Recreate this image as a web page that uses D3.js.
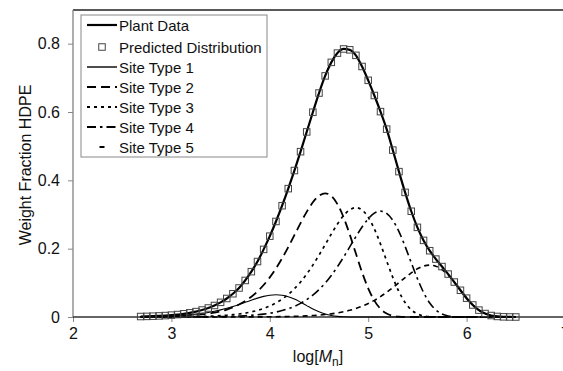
<!DOCTYPE html>
<html>
<head>
<meta charset="utf-8">
<script src="https://cdn.jsdelivr.net/npm/d3@7"></script>
<style>
  body { margin: 0; background: #fff; }
  svg { display: block; font-family: "Liberation Sans", Arial, sans-serif; }
</style>
</head>
<body>
<svg id="chart" width="563" height="371"></svg>
<script>
// log(Mn) grid shared by all curves
const logM = [2.6875, 2.75, 2.8125, 2.875, 2.9375, 3, 3.0625, 3.125, 3.1875, 3.25,
  3.3125, 3.375, 3.4375, 3.5, 3.5625, 3.625, 3.6875, 3.75, 3.8125, 3.875,
  3.9375, 4, 4.0625, 4.125, 4.1875, 4.25, 4.3125, 4.375, 4.4375, 4.5,
  4.5625, 4.625, 4.6875, 4.75, 4.8125, 4.875, 4.9375, 5, 5.0625, 5.125,
  5.1875, 5.25, 5.3125, 5.375, 5.4375, 5.5, 5.5625, 5.625, 5.6875, 5.75,
  5.8125, 5.875, 5.9375, 6, 6.0625, 6.125, 6.1875, 6.25, 6.3125, 6.375,
  6.4375, 6.5];

// Measured weight fraction (plant GPC)
const plantData = [0.0014, 0.0018, 0.0024, 0.0032, 0.0042, 0.0055, 0.0072, 0.0094, 0.0122, 0.0158,
  0.0204, 0.0263, 0.0337, 0.0429, 0.0542, 0.0681, 0.0849, 0.107, 0.1327, 0.1623,
  0.1979, 0.2366, 0.2796, 0.3257, 0.3757, 0.4287, 0.4839, 0.5417, 0.5994, 0.6555,
  0.7057, 0.7453, 0.7724, 0.7845, 0.782, 0.7658, 0.7332, 0.6927, 0.6483, 0.6011,
  0.5499, 0.4885, 0.4255, 0.3647, 0.3095, 0.2624, 0.2242, 0.194, 0.1695, 0.1476,
  0.1256, 0.1023, 0.0782, 0.0551, 0.0352, 0.0201, 0.0101, 0.0043, 0.0016, 0.0005,
  0.0001, 0];

// Model prediction (five site types combined)
const predicted = [0.0014, 0.0018, 0.0024, 0.0032, 0.0042, 0.0055, 0.0072, 0.0094, 0.0122, 0.0158,
  0.0204, 0.0263, 0.0337, 0.0429, 0.0542, 0.0681, 0.0849, 0.107, 0.1327, 0.1623,
  0.1979, 0.2366, 0.2796, 0.3257, 0.3757, 0.4287, 0.4839, 0.5417, 0.5994, 0.6555,
  0.7057, 0.7453, 0.7724, 0.7845, 0.782, 0.7658, 0.7332, 0.6927, 0.6483, 0.6011,
  0.5499, 0.4885, 0.4255, 0.3647, 0.3095, 0.2624, 0.2242, 0.194, 0.1695, 0.1476,
  0.1256, 0.1023, 0.0782, 0.0551, 0.0352, 0.0201, 0.0101, 0.0043, 0.0016, 0.0005,
  0.0001, 0];

const site1 = [0.0008, 0.001, 0.0014, 0.0018, 0.0023, 0.003, 0.0039, 0.0051, 0.0065, 0.0084,
  0.0106, 0.0134, 0.0168, 0.0208, 0.0255, 0.0309, 0.0368, 0.043, 0.0493, 0.0553,
  0.0603, 0.0637, 0.065, 0.0636, 0.0593, 0.0524, 0.0433, 0.0333, 0.0235, 0.0151,
  0.0086, 0.0043, 0.0019, 0.0007, 0.0002, 0.0001, 0, 0, 0, 0,
  0, 0, 0, 0, 0, 0, 0, 0, 0, 0,
  0, 0, 0, 0, 0, 0, 0, 0, 0, 0,
  0, 0];

const site2 = [0.0005, 0.0006, 0.0008, 0.0011, 0.0014, 0.0019, 0.0025, 0.0033, 0.0044, 0.0058,
  0.0076, 0.0099, 0.013, 0.0169, 0.0219, 0.0283, 0.0364, 0.0466, 0.0593, 0.0748,
  0.0936, 0.116, 0.1421, 0.1718, 0.2047, 0.2395, 0.2747, 0.3078, 0.3357, 0.3549,
  0.362, 0.3542, 0.3304, 0.2916, 0.2414, 0.1856, 0.1311, 0.0839, 0.0479, 0.024,
  0.0103, 0.0037, 0.0011, 0.0003, 0.0001, 0, 0, 0, 0, 0,
  0, 0, 0, 0, 0, 0, 0, 0, 0, 0,
  0, 0];

const site3 = [0.0001, 0.0001, 0.0002, 0.0002, 0.0003, 0.0004, 0.0005, 0.0007, 0.001, 0.0013,
  0.0017, 0.0022, 0.0029, 0.0039, 0.0051, 0.0067, 0.0088, 0.0114, 0.0149, 0.0194,
  0.025, 0.0322, 0.0412, 0.0524, 0.0661, 0.0828, 0.1025, 0.1256, 0.1519, 0.1809,
  0.2117, 0.2428, 0.2721, 0.2968, 0.3137, 0.32, 0.3131, 0.2921, 0.2577, 0.2134,
  0.1641, 0.1159, 0.0742, 0.0424, 0.0212, 0.0091, 0.0033, 0.001, 0.0002, 0,
  0, 0, 0, 0, 0, 0, 0, 0, 0, 0,
  0, 0];

const site4 = [0, 0, 0.0001, 0.0001, 0.0001, 0.0001, 0.0002, 0.0002, 0.0003, 0.0004,
  0.0005, 0.0007, 0.0009, 0.0012, 0.0016, 0.0022, 0.0028, 0.0037, 0.0049, 0.0065,
  0.0085, 0.0111, 0.0144, 0.0188, 0.0243, 0.0312, 0.0399, 0.0508, 0.0641, 0.0802,
  0.0993, 0.1217, 0.1472, 0.1753, 0.2051, 0.2352, 0.2636, 0.2875, 0.3039, 0.31,
  0.3033, 0.2829, 0.2497, 0.2067, 0.159, 0.1123, 0.0719, 0.041, 0.0206, 0.0089,
  0.0032, 0.001, 0.0002, 0, 0, 0, 0, 0, 0, 0,
  0, 0];

const site5 = [0, 0, 0, 0, 0, 0, 0, 0, 0, 0,
  0, 0, 0.0001, 0.0001, 0.0001, 0.0001, 0.0002, 0.0002, 0.0003, 0.0003,
  0.0005, 0.0006, 0.0008, 0.0011, 0.0014, 0.0018, 0.0024, 0.0032, 0.0042, 0.0054,
  0.0071, 0.0092, 0.0119, 0.0153, 0.0196, 0.0249, 0.0314, 0.0393, 0.0487, 0.0597,
  0.0722, 0.0859, 0.1006, 0.1153, 0.1292, 0.141, 0.149, 0.152, 0.1487, 0.1387,
  0.1224, 0.1014, 0.0779, 0.055, 0.0352, 0.0201, 0.0101, 0.0043, 0.0016, 0.0005,
  0.0001, 0];

const xTicks = [2, 3, 4, 5, 6, 7];
const yTicks = [0, 0.2, 0.4, 0.6, 0.8];
const yTickLabels = ["0", "0.2", "0.4", "0.6", "0.8"];
const legendLabels = ["Plant Data", "Predicted Distribution", "Site Type 1",
  "Site Type 2", "Site Type 3", "Site Type 4", "Site Type 5"];

const svg = d3.select("#chart");
const x = d3.scaleLinear().domain([2, 7]).range([73, 565]);
const y = d3.scaleLinear().domain([0, 0.9]).range([317, 9.5]);

// frame
svg.append("line").attr("x1", 73).attr("x2", 563).attr("y1", 10).attr("y2", 10)
  .attr("stroke", "#222").attr("stroke-width", 1.4);
svg.append("line").attr("x1", 73).attr("x2", 73).attr("y1", 10).attr("y2", 317)
  .attr("stroke", "#777").attr("stroke-width", 1.2);

// axes
const xAxis = svg.append("g").attr("transform", "translate(0,317)")
  .call(d3.axisBottom(x).tickValues(xTicks).tickSize(5).tickPadding(6).tickFormat(d3.format("d")));
const yAxis = svg.append("g").attr("transform", "translate(73,0)")
  .call(d3.axisLeft(y).tickValues(yTicks).tickSize(5).tickPadding(8)
    .tickFormat((d, i) => yTickLabels[i]));
[xAxis, yAxis].forEach(g => {
  g.select(".domain").remove();
  g.selectAll(".tick line").attr("stroke", "#888");
  g.selectAll(".tick text").attr("fill", "#111").style("font-size", "16px")
    .style("font-family", '"Liberation Sans", Arial, sans-serif');
});
svg.append("line").attr("x1", 73).attr("x2", 563).attr("y1", 317).attr("y2", 317)
  .attr("stroke", "#333").attr("stroke-width", 1.3);

// axis titles
svg.append("text").attr("transform", "rotate(-90)").attr("x", -165).attr("y", 31)
  .attr("text-anchor", "middle").style("font-size", "16px").attr("fill", "#111")
  .text("Weight Fraction HDPE");
const xt = svg.append("text").attr("x", 318).attr("y", 362).attr("text-anchor", "middle")
  .style("font-size", "16px").attr("fill", "#111");
xt.append("tspan").text("log[");
xt.append("tspan").style("font-style", "italic").text("M");
xt.append("tspan").attr("dy", 4).style("font-size", "12px").text("n");
xt.append("tspan").attr("dy", -4).text("]");

// series styles
const sites = [
  { values: site1, width: 1.1, dash: null },
  { values: site2, width: 1.8, dash: "9,5" },
  { values: site3, width: 1.7, dash: "3,4" },
  { values: site4, width: 1.6, dash: "9,4,2.5,4" },
  { values: site5, width: 1.6, dash: "5,4" }
];

const line = d3.line().x(d => x(d[0])).y(d => y(d[1])).curve(d3.curveMonotoneX);

sites.forEach(s => {
  svg.append("path").datum(logM.map((m, i) => [m, s.values[i]]))
    .attr("d", line).attr("fill", "none").attr("stroke", "#000")
    .attr("stroke-width", s.width).attr("stroke-dasharray", s.dash);
});

svg.append("path").datum(logM.map((m, i) => [m, plantData[i]]))
  .attr("d", line).attr("fill", "none").attr("stroke", "#000").attr("stroke-width", 2.2);

const sq = 6.5;
svg.append("g").selectAll("rect").data(logM.map((m, i) => [m, predicted[i]]))
  .join("rect")
  .attr("x", d => x(d[0]) - sq / 2).attr("y", d => y(d[1]) - sq / 2)
  .attr("width", sq).attr("height", sq)
  .attr("fill", "none").attr("stroke", "#444").attr("stroke-width", 1);

// legend
const lg = svg.append("g");
lg.append("rect").attr("x", 81).attr("y", 15).attr("width", 186).attr("height", 142)
  .attr("fill", "#fff").attr("stroke", "#888").attr("stroke-width", 1);
const rowY = i => (i === 0 ? 25 : 47 + (i - 1) * 20);
legendLabels.forEach((lab, i) => {
  const yy = rowY(i);
  if (i === 0) {
    lg.append("line").attr("x1", 87).attr("x2", 117).attr("y1", yy).attr("y2", yy)
      .attr("stroke", "#000").attr("stroke-width", 2.2);
  } else if (i === 1) {
    lg.append("rect").attr("x", 102 - sq / 2).attr("y", yy - sq / 2)
      .attr("width", sq).attr("height", sq).attr("fill", "none")
      .attr("stroke", "#444").attr("stroke-width", 1);
  } else {
    const s = sites[i - 2];
    const dash = i === 6 ? "0,12.5,5,20" : s.dash;
    lg.append("line").attr("x1", 87).attr("x2", 117).attr("y1", yy).attr("y2", yy)
      .attr("stroke", "#000").attr("stroke-width", s.width + 0.3)
      .attr("stroke-dasharray", dash);
  }
  lg.append("text").attr("x", 119).attr("y", yy + 5.5).style("font-size", "15px")
    .attr("fill", "#111").text(lab);
});
</script>
</body>
</html>
